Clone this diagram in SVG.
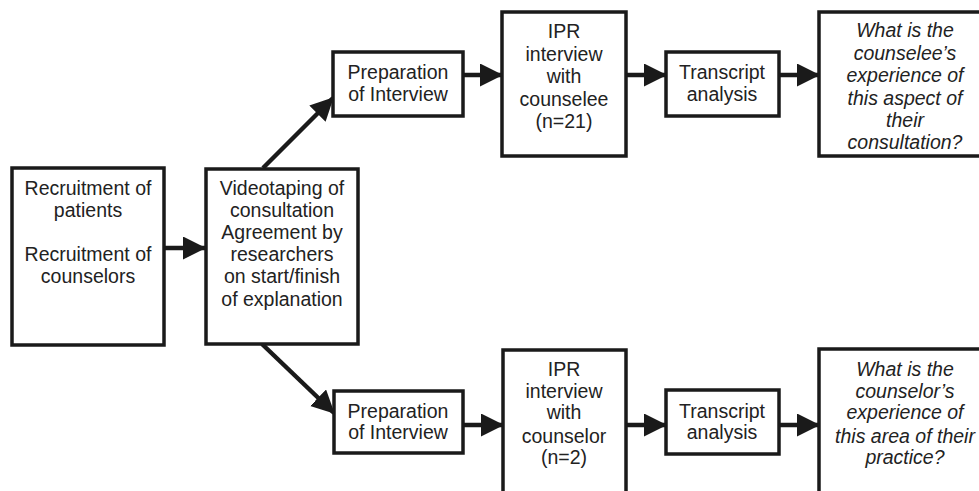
<svg xmlns="http://www.w3.org/2000/svg" width="979" height="491" viewBox="0 0 979 491">
<defs>
<marker id="ah" markerUnits="userSpaceOnUse" markerWidth="24" markerHeight="24" refX="22" refY="11.5" orient="auto">
<path d="M0,0 L23,11.5 L0,23 z" fill="#1a1a1a"/>
</marker>
<style>
.box{fill:#fff;stroke:#1a1a1a;stroke-width:3.5}
.t{font-family:"Liberation Sans",Arial,sans-serif;font-size:19.5px;fill:#222;text-anchor:middle}
.i{font-style:italic}
.c{stroke:#1a1a1a;stroke-width:4.5;fill:none;marker-end:url(#ah)}
</style>
</defs>
<rect width="979" height="491" fill="#fff"/>
<g id="connectors">
<line class="c" x1="164" y1="248" x2="205" y2="248"/>
<line class="c" x1="263" y1="168" x2="333" y2="98"/>
<line class="c" x1="262" y1="344" x2="334" y2="413"/>
<line class="c" x1="463" y1="75" x2="502" y2="75"/>
<line class="c" x1="626" y1="75" x2="666" y2="75"/>
<line class="c" x1="779" y1="75" x2="819" y2="75"/>
<line class="c" x1="463" y1="425" x2="503" y2="425"/>
<line class="c" x1="626" y1="425" x2="666" y2="425"/>
<line class="c" x1="779" y1="425" x2="819" y2="425"/>
</g>
<g id="recruitment">
<rect class="box" x="12" y="168" width="152" height="177"/>
<text class="t" x="88" y="194.5">Recruitment of</text>
<text class="t" x="88" y="216.5">patients</text>
<text class="t" x="88" y="261">Recruitment of</text>
<text class="t" x="88" y="283">counselors</text>
</g>
<g id="videotaping">
<rect class="box" x="206" y="169" width="152" height="175"/>
<text class="t" x="282" y="194.5">Videotaping of</text>
<text class="t" x="282" y="216.5">consultation</text>
<text class="t" x="282" y="238.5">Agreement by</text>
<text class="t" x="282" y="261">researchers</text>
<text class="t" x="282" y="283">on start/finish</text>
<text class="t" x="282" y="306">of explanation</text>
</g>
<g id="prep-top">
<rect class="box" x="333" y="52" width="130" height="64"/>
<text class="t" x="398" y="79">Preparation</text>
<text class="t" x="398" y="101">of Interview</text>
</g>
<g id="ipr-top">
<rect class="box" x="502" y="12" width="124" height="144"/>
<text class="t" x="564" y="37.5">IPR</text>
<text class="t" x="564" y="60.5">interview</text>
<text class="t" x="564" y="82.5">with</text>
<text class="t" x="564" y="105.5">counselee</text>
<text class="t" x="564" y="127.5">(n=21)</text>
</g>
<g id="transcript-top">
<rect class="box" x="666" y="52" width="113" height="64"/>
<text class="t" x="722" y="79">Transcript</text>
<text class="t" x="722" y="101">analysis</text>
</g>
<g id="question-top">
<rect class="box" x="819" y="12" width="180" height="144"/>
<text class="t i" x="905" y="37">What is the</text>
<text class="t i" x="905" y="60">counselee’s</text>
<text class="t i" x="905" y="82">experience of</text>
<text class="t i" x="905" y="105">this aspect of</text>
<text class="t i" x="905" y="127">their</text>
<text class="t i" x="905" y="149">consultation?</text>
</g>
<g id="prep-bottom">
<rect class="box" x="334" y="391" width="129" height="62"/>
<text class="t" x="398" y="418">Preparation</text>
<text class="t" x="398" y="439">of Interview</text>
</g>
<g id="ipr-bottom">
<rect class="box" x="503" y="350" width="123" height="160"/>
<text class="t" x="564" y="376">IPR</text>
<text class="t" x="564" y="398">interview</text>
<text class="t" x="564" y="419">with</text>
<text class="t" x="564" y="443">counselor</text>
<text class="t" x="564" y="464">(n=2)</text>
</g>
<g id="transcript-bottom">
<rect class="box" x="666" y="390" width="113" height="64"/>
<text class="t" x="722" y="418">Transcript</text>
<text class="t" x="722" y="439">analysis</text>
</g>
<g id="question-bottom">
<rect class="box" x="819" y="349" width="180" height="160"/>
<text class="t i" x="905" y="376">What is the</text>
<text class="t i" x="905" y="398">counselor’s</text>
<text class="t i" x="905" y="419">experience of</text>
<text class="t i" x="905" y="443">this area of their</text>
<text class="t i" x="905" y="464">practice?</text>
</g>
</svg>
